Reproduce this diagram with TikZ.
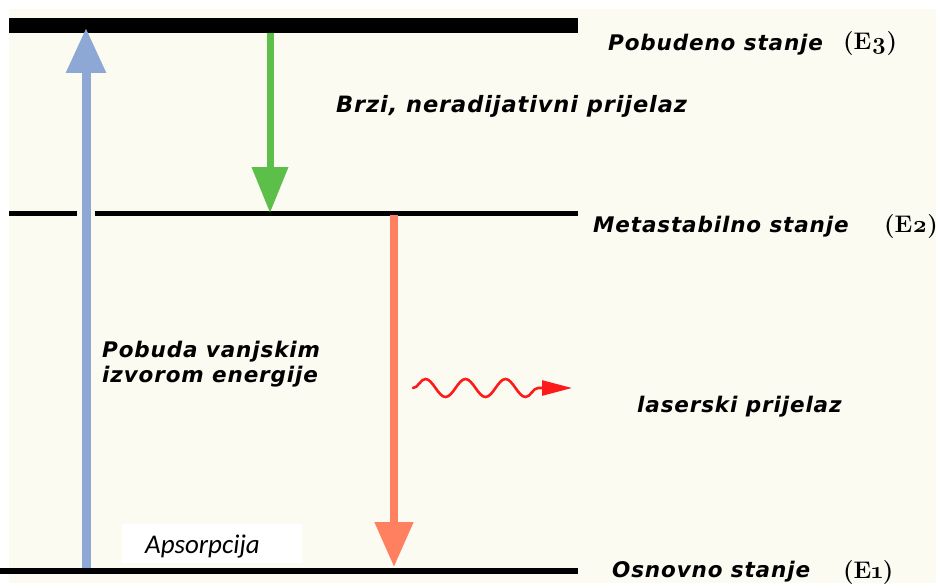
\documentclass[tikz,border=0pt]{standalone}
\usepackage{fontspec}
\setmainfont{DejaVu Sans}
\newfontfamily\lblfont{DejaVu Sans}[BoldItalicFont={DejaVu Sans Bold Oblique},LetterSpace=4]
\newfontfamily\absfont{Carlito}
\newfontfamily\efont{Latin Modern Roman}[Numbers=OldStyle]
\usetikzlibrary{arrows.meta,decorations.pathmorphing}
\definecolor{bgcream}{HTML}{FBFBF2}
\definecolor{blueup}{HTML}{8DA8D5}
\definecolor{greendown}{HTML}{5CBF4A}
\definecolor{salmon}{HTML}{FF7F61}
\definecolor{wavered}{HTML}{FF1A1A}
\tikzset{
  level/.style={draw=black,line cap=butt},
  lbl/.style={anchor=base west,inner sep=0pt,font=\lblfont\bfseries\itshape\fontsize{21.5}{25}\selectfont},
  elbl/.style={anchor=base west,inner sep=0pt,font=\efont\bfseries\fontsize{24}{28}\selectfont},
  bigarrow/.style={line cap=butt},
}
\begin{document}
\begin{tikzpicture}[x=1pt,y=-1pt]
\useasboundingbox (0,0) rectangle (936,583);
\fill[white] (0,0) rectangle (936,583);
\fill[bgcream] (9,9) rectangle (936,583);
% energy levels
\coordinate (e3l) at (9,26);
\coordinate (e3r) at (578,26);
\coordinate (e2l) at (9,213);
\coordinate (e2r) at (578,213);
\coordinate (e1l) at (0,571);
\coordinate (e1r) at (578,571);
\draw[level,line width=15pt] (e3l) -- (e3r);
\draw[level,line width=5pt] (e2l) -- (e2r);
\draw[level,line width=5.5pt] (e1l) -- (e1r);
% gap in E2 line around blue arrow
\fill[bgcream] (77,209) rectangle (95,217);
% blue excitation arrow
\coordinate (bbot) at (86,568);
\coordinate (btop) at (86,28);
\draw[bigarrow,blueup,line width=9pt,-{Triangle[length=45pt,width=38pt]}] (bbot) -- (btop);
% green arrow
\coordinate (gtop) at (270,33);
\coordinate (gbot) at (270,213);
\draw[bigarrow,greendown,line width=7pt,-{Triangle[length=46pt,width=35pt]}] (gtop) -- (gbot);
% salmon laser arrow
\coordinate (rtop) at (394,215);
\coordinate (rbot) at (394,567);
\draw[bigarrow,salmon,line width=8pt,-{Triangle[length=45pt,width=37pt]}] (rtop) -- (rbot);
% wavy photon
\coordinate (w0) at (413,388);
\coordinate (w1) at (543,388);
\coordinate (w2) at (572,388);
\draw[wavered,line width=2.6pt,line cap=round,decorate,decoration={snake,amplitude=9pt,segment length=40pt}] (w0) -- (w1);
\draw[wavered,line width=2.6pt,-{Triangle[length=30pt,width=15pt]}] (538,388) -- (w2);
% Apsorpcija box
\node[fill=white,minimum width=180pt,minimum height=39pt,inner sep=0pt,anchor=north west] (absbox) at (122,524) {};
\node[anchor=base west,inner sep=0pt,font=\absfont\itshape\fontsize{27}{31}\selectfont] (abs) at (145,553) {Apsorpcija};
% labels
\node[lbl] (t3) at (608,51) {Pobudeno stanje};
\node[elbl] (e3) at (843,50) {(E3)};
\node[lbl,font=\lblfont\bfseries\itshape\fontsize{22.5}{26}\selectfont] (tfast) at (336,113) {Brzi, neradijativni prijelaz};
\node[lbl] (t2) at (593,232) {Metastabilno stanje};
\node[elbl] (e2) at (884,232) {(E2)};
\node[lbl] (tpa) at (102,357) {Pobuda vanjskim};
\node[lbl] (tpb) at (102,382) {izvorom energije};
\node[lbl] (tlas) at (637,412) {laserski prijelaz};
\node[lbl] (t1) at (612,577) {Osnovno stanje};
\node[elbl] (e1) at (843,578) {(E1)};
\end{tikzpicture}
\end{document}
